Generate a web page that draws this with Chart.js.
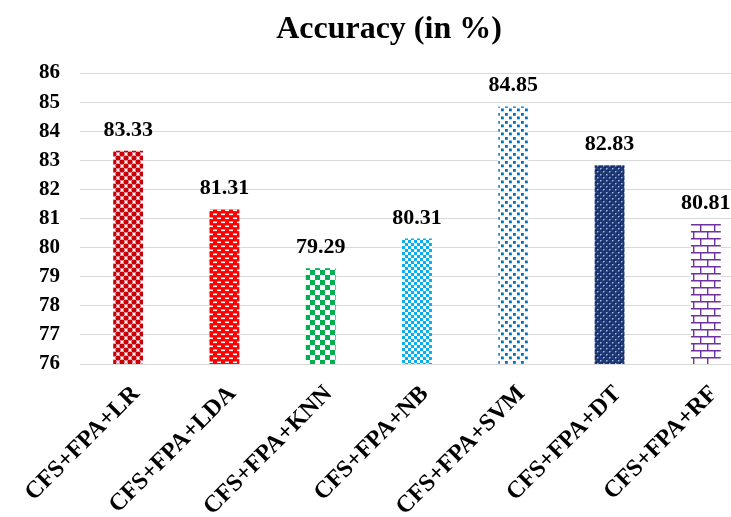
<!DOCTYPE html>
<html>
<head>
<meta charset="utf-8">
<script src="https://cdn.jsdelivr.net/npm/chart.js@4/dist/chart.umd.min.js"></script>
<style>
  html, body { margin: 0; padding: 0; background: #fff; overflow: hidden; }
  #wrap { width: 756px; height: 517px; position: relative; }
</style>
</head>
<body>
<div id="wrap"><canvas id="c" width="756" height="517"></canvas></div>
<script>
// Classifier combinations and their accuracy
const categories = ['CFS+FPA+LR', 'CFS+FPA+LDA', 'CFS+FPA+KNN', 'CFS+FPA+NB', 'CFS+FPA+SVM', 'CFS+FPA+DT', 'CFS+FPA+RF'];
const accuracy = [83.33, 81.31, 79.29, 80.31, 84.85, 82.83, 80.81];
const yMin = 76;
const yMax = 86;
const yStep = 1;
const chartTitle = 'Accuracy (in %)';

const SERIF = '"Liberation Serif", "Times New Roman", serif';

// Pattern fills for each bar
function tile(w, h, draw) {
  const c = document.createElement('canvas');
  c.width = w; c.height = h;
  const g = c.getContext('2d');
  draw(g, w, h);
  return g.createPattern(c, 'repeat');
}
const ctx0 = document.getElementById('c').getContext('2d');
const patterns = [
  // red spheres
  tile(8, 8, (g) => {
    g.fillStyle = '#fff'; g.fillRect(0, 0, 8, 8);
    g.fillStyle = '#c8000a';
    [[2, 2], [6, 6], [-2, 6], [6, -2], [10, 6], [6, 10], [-2, -2], [10, 10], [2, 10], [10, 2], [-2, 10]].forEach(([x, y]) => {
      g.beginPath(); g.arc(x, y, 2.6, 0, Math.PI * 2); g.fill();
    });
  }),
  // red with white dashes
  tile(8, 8, (g) => {
    g.fillStyle = '#ff0000'; g.fillRect(0, 0, 8, 8);
    g.fillStyle = '#fff';
    g.fillRect(1, 1.5, 4, 1.6);
    g.fillRect(5, 5.5, 3, 1.6);
    g.fillRect(0, 5.5, 1, 1.6);
  }),
  // green large checkerboard
  tile(10, 10, (g) => {
    g.fillStyle = '#fff'; g.fillRect(0, 0, 10, 10);
    g.fillStyle = '#00b050';
    g.fillRect(0, 0, 5, 5); g.fillRect(5, 5, 5, 5);
  }),
  // light blue small checkerboard
  tile(6, 6, (g) => {
    g.fillStyle = '#fff'; g.fillRect(0, 0, 6, 6);
    g.fillStyle = '#00b0f0';
    g.fillRect(0, 0, 3, 3); g.fillRect(3, 3, 3, 3);
  }),
  // blue scattered dots
  tile(8, 8, (g) => {
    g.fillStyle = '#fff'; g.fillRect(0, 0, 8, 8);
    g.fillStyle = '#0070c0';
    g.fillRect(1, 1, 2.8, 2.8); g.fillRect(5, 4.5, 2.8, 2.8);
  }),
  // navy lattice
  tile(6, 6, (g) => {
    g.fillStyle = '#1f3a78'; g.fillRect(0, 0, 6, 6);
    g.fillStyle = '#a9b6d6';
    g.fillRect(0, 0, 1.5, 1.5); g.fillRect(3, 3, 1.5, 1.5);
    g.fillStyle = '#0f2458';
    g.fillRect(1.5, 1.5, 1.5, 1.5); g.fillRect(4.5, 4.5, 1.5, 1.5);
  }),
  // purple brick outline
  tile(14, 14, (g) => {
    g.fillStyle = '#fff'; g.fillRect(0, 0, 14, 14);
    g.strokeStyle = '#7030a0'; g.lineWidth = 1.4;
    g.beginPath();
    g.moveTo(0, 0.7); g.lineTo(14, 0.7);
    g.moveTo(0, 7.7); g.lineTo(14, 7.7);
    g.moveTo(0.7, 0.7); g.lineTo(0.7, 7.7);
    g.moveTo(7.7, 7.7); g.lineTo(7.7, 14);
    g.stroke();
  })
];

// Value labels above each bar
const valueLabels = {
  id: 'valueLabels',
  afterDatasetsDraw(chart) {
    const { ctx } = chart;
    const meta = chart.getDatasetMeta(0);
    ctx.save();
    ctx.font = 'bold 22px ' + SERIF;
    ctx.fillStyle = '#000';
    ctx.textAlign = 'center';
    ctx.textBaseline = 'alphabetic';
    meta.data.forEach((bar, i) => {
      ctx.fillText(accuracy[i].toFixed(2), bar.x, bar.y - 15);
    });
    ctx.restore();
  }
};

// Chart heading
const heading = {
  id: 'heading',
  afterDraw(chart) {
    const { ctx } = chart;
    ctx.save();
    ctx.font = 'bold 32px ' + SERIF;
    ctx.fillStyle = '#000';
    ctx.textAlign = 'center';
    ctx.textBaseline = 'alphabetic';
    ctx.fillText(chartTitle, 389, 38);
    ctx.restore();
  }
};

new Chart(ctx0, {
  type: 'bar',
  data: {
    labels: categories,
    datasets: [{
      data: accuracy,
      backgroundColor: patterns,
      borderWidth: 0,
      barPercentage: 0.31,
      categoryPercentage: 1.0
    }]
  },
  options: {
    responsive: false,
    animation: false,
    layout: { padding: { top: 73, right: 2, left: 0, bottom: 0 } },
    plugins: {
      legend: { display: false },
      title: { display: false },
      tooltip: { enabled: false }
    },
    scales: {
      y: {
        min: yMin,
        max: yMax,
        ticks: {
          stepSize: yStep,
          padding: 20,
          color: '#000',
          font: { family: SERIF, size: 21, weight: 'bold' }
        },
        grid: { color: '#d9d9d9', lineWidth: 1, drawTicks: false },
        border: { display: false },
        afterFit(scale) {
          scale.width = 80;
          scale.paddingTop = 0;
          scale.paddingBottom = 0;
        }
      },
      x: {
        ticks: {
          minRotation: 45,
          maxRotation: 45,
          padding: 16,
          labelOffset: 8,
          color: '#000',
          font: { family: SERIF, size: 24, weight: 'bold' }
        },
        grid: { display: false, drawTicks: false },
        border: { display: true, color: '#d9d9d9', width: 1 },
        afterFit(scale) {
          scale.height = 153;
          scale.paddingLeft = 0;
          scale.paddingRight = 0;
        }
      }
    }
  },
  plugins: [valueLabels, heading]
});
</script>
</body>
</html>
